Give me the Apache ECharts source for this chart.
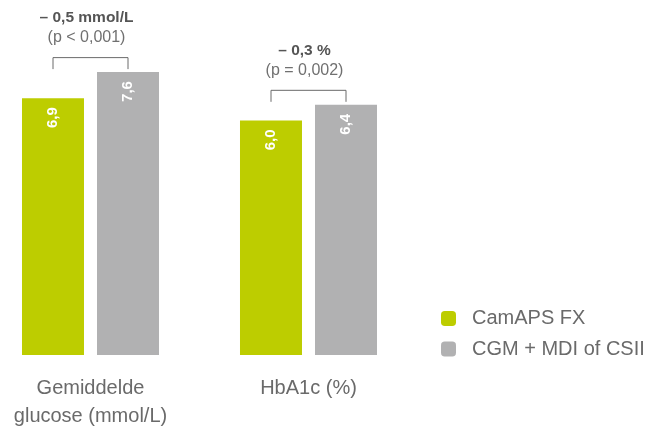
<!DOCTYPE html>
<html>
<head>
<meta charset="utf-8">
<script src="https://cdn.jsdelivr.net/npm/echarts@6/dist/echarts.min.js"></script>
<style>
  html, body { margin: 0; padding: 0; background: #fff; }
  #chart { width: 653px; height: 427px; }
</style>
</head>
<body>
<div id="chart"></div>
<script>
var categories = ['Gemiddelde\nglucose (mmol/L)', 'HbA1c (%)'];
var seriesNames = ['CamAPS FX', 'CGM + MDI of CSII'];
var camapsValues = [6.9, 6.0];
var cgmValues = [7.6, 6.4];
var diffLabels = ['– 0,5 mmol/L', '– 0,3 %'];
var pLabels = ['(p < 0,001)', '(p = 0,002)'];
// elk paneel heeft zijn eigen schaal (zoals in de bron)
var axisMax = [9, 8.57];

var GREEN = '#bdcd00';
var GREY = '#b1b1b2';
var FONT = 'Liberation Sans';

var chart = echarts.init(document.getElementById('chart'));

var grids = [], xAxes = [], yAxes = [], series = [];
categories.forEach(function (cat, i) {
    grids.push({ left: 10 + i * 218, width: 161, top: 20, bottom: 72, outerBoundsMode: 'none', containLabel: false });
    xAxes.push({
        type: 'category', gridIndex: i, data: [cat],
        axisLine: { show: false }, axisTick: { show: false },
        axisLabel: { color: '#6a6a6a', fontSize: 20, fontFamily: FONT, lineHeight: 28, margin: 19 }
    });
    yAxes.push({ type: 'value', gridIndex: i, min: 0, max: axisMax[i], show: false });

    var barLabel = {
        show: true, position: 'insideTop', rotate: 90, align: 'right', verticalAlign: 'middle',
        distance: 9, color: '#fff', fontWeight: 'bold', fontSize: 15, fontFamily: FONT,
        formatter: function (p) { return String(p.value).replace('.', ',').replace(/^(\d)$/, '$1,0'); }
    };
    series.push({
        name: seriesNames[0], type: 'bar', xAxisIndex: i, yAxisIndex: i,
        data: [camapsValues[i]], barWidth: 62, barGap: '21%',
        itemStyle: { color: GREEN }, label: barLabel, silent: true
    });
    series.push({
        name: seriesNames[1], type: 'bar', xAxisIndex: i, yAxisIndex: i,
        data: [cgmValues[i]], barWidth: 62, barGap: '21%',
        itemStyle: { color: GREY }, label: barLabel, silent: true
    });
    // haak + verschil boven het paar staven
    series.push({
        type: 'custom', xAxisIndex: i, yAxisIndex: i, silent: true,
        data: [[0, Math.max(camapsValues[i], cgmValues[i])]],
        renderItem: function (params, api) {
            var p = api.coord([api.value(0), api.value(1)]);
            var half = 37.5, yl = p[1] - 14.5, ye = p[1] - 3;
            return {
                type: 'group',
                children: [{
                    type: 'polyline',
                    shape: { points: [[p[0] - half, ye], [p[0] - half, yl], [p[0] + half, yl], [p[0] + half, ye]] },
                    style: { stroke: '#6a6a6a', lineWidth: 1, fill: null }
                }, {
                    type: 'text',
                    style: { x: p[0] - 4, y: yl - 20, text: pLabels[i], fill: '#707070',
                        fontSize: 16, fontFamily: FONT, align: 'center', verticalAlign: 'middle' }
                }, {
                    type: 'text',
                    style: { x: p[0] - 4, y: yl - 39.5, text: diffLabels[i], fill: '#555',
                        fontSize: 15.5, fontWeight: 'bold', fontFamily: FONT, align: 'center', verticalAlign: 'middle' }
                }]
            };
        }
    });
});

chart.setOption({
    animation: false,
    grid: grids,
    xAxis: xAxes,
    yAxis: yAxes,
    legend: {
        data: seriesNames, orient: 'vertical', left: 436, top: 303.5,
        icon: 'roundRect', itemWidth: 15, itemHeight: 15, itemGap: 10.5,
        textStyle: { color: '#6a6a6a', fontSize: 20, fontFamily: FONT, padding: [0, 0, 0, 11] },
        selectedMode: false
    },
    series: series
});
</script>
</body>
</html>
